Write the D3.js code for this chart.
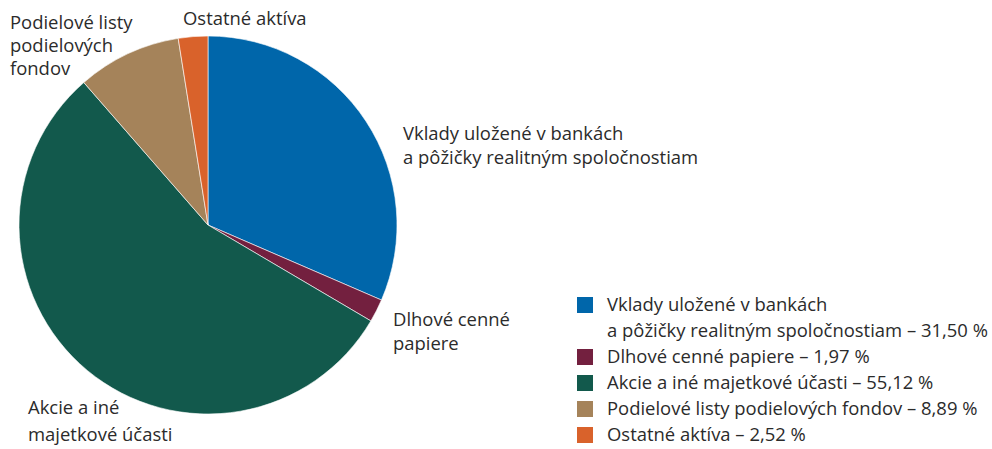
<!DOCTYPE html>
<html>
<head>
<meta charset="utf-8">
<script src="https://cdn.jsdelivr.net/npm/d3@7"></script>
<style>
  html, body { margin: 0; padding: 0; background: #fff; }
  svg text { font-family: "Open Sans", "Noto Sans", sans-serif; fill: #2b2b2b; }
</style>
</head>
<body>
<svg id="chart" width="992" height="449"></svg>
<script>
// Štruktúra aktív (v %)
const categories = [
  "Vklady uložené v bankách a pôžičky realitným spoločnostiam",
  "Dlhové cenné papiere",
  "Akcie a iné majetkové účasti",
  "Podielové listy podielových fondov",
  "Ostatné aktíva"
];
const values = [31.50, 1.97, 55.12, 8.89, 2.52];
const colors = ["#0066aa", "#73203f", "#12594c", "#a5835a", "#d9622b"];
const valueLabels = ["31,50 %", "1,97 %", "55,12 %", "8,89 %", "2,52 %"];

// popisky pri výsečiach (zalomené do riadkov)
const sliceLabelLines = [
  ["Vklady uložené v bankách", "a pôžičky realitným spoločnostiam"],
  ["Dlhové cenné", "papiere"],
  ["Akcie a iné", "majetkové účasti"],
  ["Podielové listy", "podielových", "fondov"],
  ["Ostatné aktíva"]
];
// riadky legendy
const legendLines = [
  ["Vklady uložené v bankách", "a pôžičky realitným spoločnostiam – " + valueLabels[0]],
  ["Dlhové cenné papiere – " + valueLabels[1]],
  ["Akcie a iné majetkové účasti – " + valueLabels[2]],
  ["Podielové listy podielových fondov – " + valueLabels[3]],
  ["Ostatné aktíva – " + valueLabels[4]]
];

const svg = d3.select("#chart");
const cx = 208, cy = 225, r = 189;

// veľkosť písma tak, aby najdlhší riadok legendy mal šírku 381 px
const probe = svg.append("text").attr("font-size", 20).text(legendLines[0][1]);
const fontSize = 20 * 381 / probe.node().getComputedTextLength();
probe.remove();

const pie = d3.pie().sort(null).value(d => d);
const arc = d3.arc().innerRadius(0).outerRadius(r);
const arcs = pie(values);

const g = svg.append("g").attr("transform", `translate(${cx},${cy})`);
g.selectAll("path").data(arcs).join("path")
  .attr("d", arc)
  .attr("fill", (d, i) => colors[i])
  .attr("stroke", "#fff")
  .attr("stroke-width", 0.6);

// umiestnenie popiskov výsečí (ľavý okraj, základná línia prvého riadku)
const labelPos = [
  { x: 403, y: 140 },
  { x: 393, y: 326 },
  { x: 28, y: 414 },
  { x: 10, y: 29 },
  { x: 183, y: 25 }
];
const labelLH = [24, 24, 27, 23, 23];

sliceLabelLines.forEach((lines, i) => {
  const t = svg.append("text")
    .attr("x", labelPos[i].x).attr("y", labelPos[i].y)
    .attr("font-size", fontSize);
  lines.forEach((ln, j) => {
    t.append("tspan").attr("x", labelPos[i].x)
      .attr("dy", j === 0 ? 0 : labelLH[i]).text(ln);
  });
});

// legenda
const lgX = 577, lgTextX = 607, lgTop = 297, lgStep = 26, box = 16;
let row = 0;
legendLines.forEach((lines, i) => {
  svg.append("rect")
    .attr("x", lgX).attr("y", lgTop + row * lgStep)
    .attr("width", box).attr("height", box)
    .attr("fill", colors[i]);
  lines.forEach((ln) => {
    svg.append("text")
      .attr("x", lgTextX).attr("y", lgTop + row * lgStep + 14)
      .attr("font-size", fontSize)
      .text(ln);
    row++;
  });
});
</script>
</body>
</html>
